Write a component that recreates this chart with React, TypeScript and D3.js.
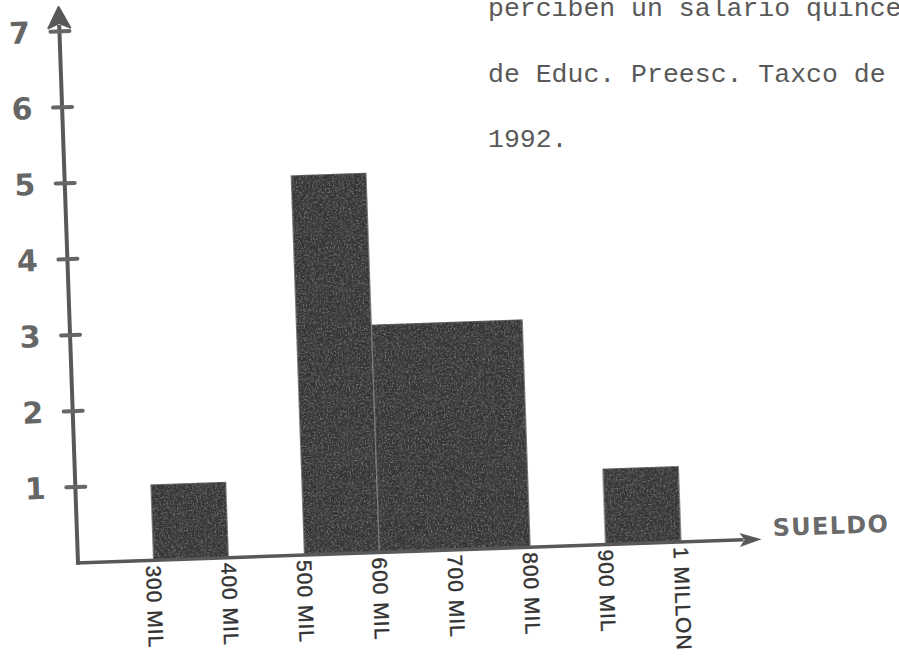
import * as d3 from 'd3'

// histogram bins (thousands of pesos) and number of teachers in each
const BIN_START = [300, 500, 600, 900]
const BIN_END = [400, 600, 800, 1000]
const COUNTS = [1, 5, 3, 1]

const X_TICKS = [300, 400, 500, 600, 700, 800, 900, 1000]
const X_LABELS = ['300 MIL', '400 MIL', '500 MIL', '600 MIL', '700 MIL', '800 MIL', '900 MIL', '1 MILLON']
const Y_TICKS = [1, 2, 3, 4, 5, 6, 7]

const TITLE_LINES = ['perciben un salario quince', 'de Educ. Preesc. Taxco de', '1992.']

const W = 899
const H = 658
const ORIGIN = { x: 78, y: 563 }
const TILT = -2 // the hand drawn axes lean a little

export default function App() {
  const x = d3.scaleLinear().domain([200, 1107]).range([0, 684])
  const y = d3.scaleLinear().domain([0, 7]).range([0, -532])

  const xEnd = x(1107)
  const yEnd = y(7.32)
  const axisColor = '#585858'

  return (
    <svg
      width={W}
      height={H}
      style={{ position: 'absolute', left: 0, top: 0, background: '#fff' }}
    >
      <defs>
        <filter id="grain" x="0" y="0" width="100%" height="100%">
          <feTurbulence type="fractalNoise" baseFrequency="0.7" numOctaves="2" seed="4" result="noise" />
          <feColorMatrix
            in="noise"
            type="matrix"
            values="0 0 0 0 0.6  0 0 0 0 0.6  0 0 0 0 0.6  0.9 0 0 0 -0.45"
            result="speck"
          />
          <feComposite in="speck" in2="SourceGraphic" operator="in" result="speckIn" />
          <feMerge>
            <feMergeNode in="SourceGraphic" />
            <feMergeNode in="speckIn" />
          </feMerge>
        </filter>
      </defs>

      {/* typed caption, cut off by the scan */}
      {TITLE_LINES.map((t, i) => (
        <text
          key={i}
          x={488}
          y={16 + i * 65.5}
          style={{ fontFamily: '"Liberation Mono", "DejaVu Sans Mono", monospace', fontSize: 26.5, fill: '#595959' }}
        >
          {t}
        </text>
      ))}

      <g transform={`translate(${ORIGIN.x},${ORIGIN.y}) rotate(${TILT})`}>
        {/* bars */}
        {COUNTS.map((c, i) => (
          <rect
            key={i}
            x={x(BIN_START[i])}
            y={y(c)}
            width={x(BIN_END[i]) - x(BIN_START[i])}
            height={y(0) - y(c)}
            fill="#353535"
            stroke="#7a7a7a"
            strokeWidth={1}
            filter="url(#grain)"
          />
        ))}

        {/* x axis */}
        <line x1={-2} y1={0} x2={xEnd - 18} y2={0} stroke={axisColor} strokeWidth={3.5} />
        <polygon
          points={`${xEnd},0 ${xEnd - 22},-7 ${xEnd - 17},0 ${xEnd - 22},7`}
          fill={axisColor}
        />

        {/* y axis */}
        <line x1={0} y1={1.5} x2={0} y2={yEnd + 18} stroke={axisColor} strokeWidth={4} />
        <polygon
          points={`0,${yEnd} -11,${yEnd + 21} 0,${yEnd + 16} 11,${yEnd + 21}`}
          fill={axisColor}
          stroke={axisColor}
          strokeWidth={2}
          strokeLinejoin="round"
        />

        {Y_TICKS.map((t) => (
          <g key={t}>
            <line
              x1={-9}
              x2={10}
              y1={y(t)}
              y2={y(t)}
              stroke="#666"
              strokeWidth={4}
              strokeLinecap="round"
            />
            <text
              x={-40}
              y={y(t)}
              dy="0.36em"
              textAnchor="middle"
              style={{ fontFamily: '"DejaVu Sans", sans-serif', fontWeight: 700, fontSize: 30, fill: '#666' }}
            >
              {t}
            </text>
          </g>
        ))}

        {X_TICKS.map((v, i) => (
          <text
            key={v}
            transform={`translate(${x(v)},5) rotate(90)`}
            dy="0.36em"
            textAnchor="start"
            style={{
              fontFamily: '"Liberation Sans", Arial, sans-serif',
              fontSize: 21,
              letterSpacing: 1,
              fill: '#333',
              stroke: '#333',
              strokeWidth: 0.4,
            }}
          >
            {X_LABELS[i]}
          </text>
        ))}
      </g>

      <text
        x={773}
        y={536}
        transform="rotate(-2 773 536)"
        style={{ fontFamily: '"DejaVu Sans", sans-serif', fontWeight: 700, fontSize: 24, letterSpacing: 1.3, fill: '#6a6a6a' }}
      >
        SUELDO
      </text>
    </svg>
  )
}
